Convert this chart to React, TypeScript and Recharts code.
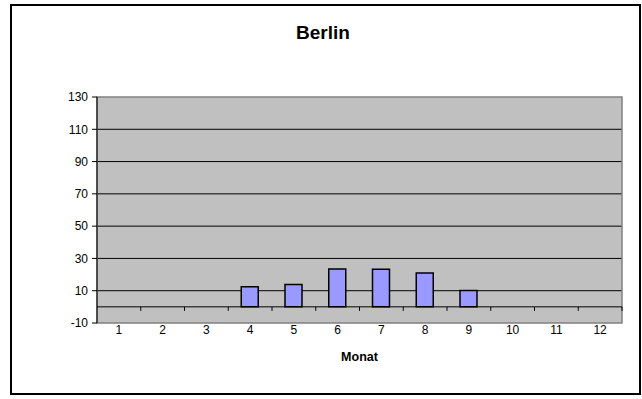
import { BarChart, Bar, XAxis, YAxis, CartesianGrid, ReferenceLine, ReferenceArea } from 'recharts'

const months = ['1', '2', '3', '4', '5', '6', '7', '8', '9', '10', '11', '12']
const berlin: (number | null)[] = [null, null, null, 12.4, 13.8, 23.5, 23.3, 21, 10.1, null, null, null]
const yTicks = [-10, 10, 30, 50, 70, 90, 110, 130]
const gridValues = [10, 30, 50, 70, 90, 110]

const data = months.map((m, i) => ({ month: m, value: berlin[i] }))

const W = 642
const H = 399
const PLOT_LEFT = 97
const PLOT_RIGHT = 622
const PLOT_TOP = 97
const PLOT_BOTTOM = 323
const X_AXIS_H = 30
const Y_MIN = -10
const Y_MAX = 130

const FONT = '"Liberation Sans", Arial, sans-serif'

// Excel-style category ticks: label under the plot, marks between categories on the zero line
function MonthTick({ x, y, payload }: any) {
  const band = (PLOT_RIGHT - PLOT_LEFT) / months.length
  const y0 = PLOT_BOTTOM - ((0 - Y_MIN) / (Y_MAX - Y_MIN)) * (PLOT_BOTTOM - PLOT_TOP)
  return (
    <g>
      <line x1={x + band / 2} x2={x + band / 2} y1={y0} y2={y0 + 4} stroke="#000" />
      <text x={x} y={y + 11} textAnchor="middle" fontSize={12} fontFamily={FONT} fill="#000">
        {payload.value}
      </text>
    </g>
  )
}

export default function App() {
  return (
    <div style={{ position: 'absolute', left: 0, top: 0, width: W, height: H, background: '#fff', fontFamily: FONT }}>
      <div
        style={{
          position: 'absolute', left: 10, top: 4, width: 631, height: 391,
          border: '2px solid #000', boxSizing: 'border-box',
        }}
      />
      <div
        style={{
          position: 'absolute', left: 0, width: 646, top: 22, textAlign: 'center',
          fontSize: 19, fontWeight: 'bold', lineHeight: '22px',
        }}
      >
        Berlin
      </div>
      <div
        style={{
          position: 'absolute', left: PLOT_LEFT, width: PLOT_RIGHT - PLOT_LEFT, top: 350, textAlign: 'center',
          fontSize: 12.5, fontWeight: 'bold', lineHeight: '15px',
        }}
      >
        Monat
      </div>
      <div style={{ position: 'absolute', left: 0, top: 0 }}>
        <BarChart
          width={W}
          height={H}
          data={data}
          margin={{ top: PLOT_TOP, right: W - PLOT_RIGHT, left: 0, bottom: H - PLOT_BOTTOM - X_AXIS_H }}
          barSize={17}
        >
          <CartesianGrid
            vertical={false}
            horizontalValues={gridValues}
            fill="#C0C0C0"
            fillOpacity={1}
            stroke="#000"
          />
          <ReferenceArea y1={Y_MIN} y2={Y_MAX} fill="none" stroke="#808080" strokeWidth={1.5} />
          <XAxis
            dataKey="month"
            height={X_AXIS_H}
            axisLine={false}
            tickLine={false}
            tickSize={0}
            tickMargin={0}
            interval={0}
            tick={<MonthTick />}
          />
          <YAxis
            width={PLOT_LEFT}
            domain={[Y_MIN, Y_MAX]}
            ticks={yTicks}
            interval={0}
            allowDataOverflow
            axisLine={{ stroke: '#000' }}
            tickLine={{ stroke: '#000' }}
            tickSize={5}
            tickMargin={4}
            tick={{ fontSize: 12, fill: '#000', fontFamily: FONT }}
          />
          <ReferenceLine y={0} stroke="#000" />
          <Bar dataKey="value" fill="#9999FF" stroke="#000" strokeWidth={1.5} isAnimationActive={false} />
        </BarChart>
      </div>
    </div>
  )
}
